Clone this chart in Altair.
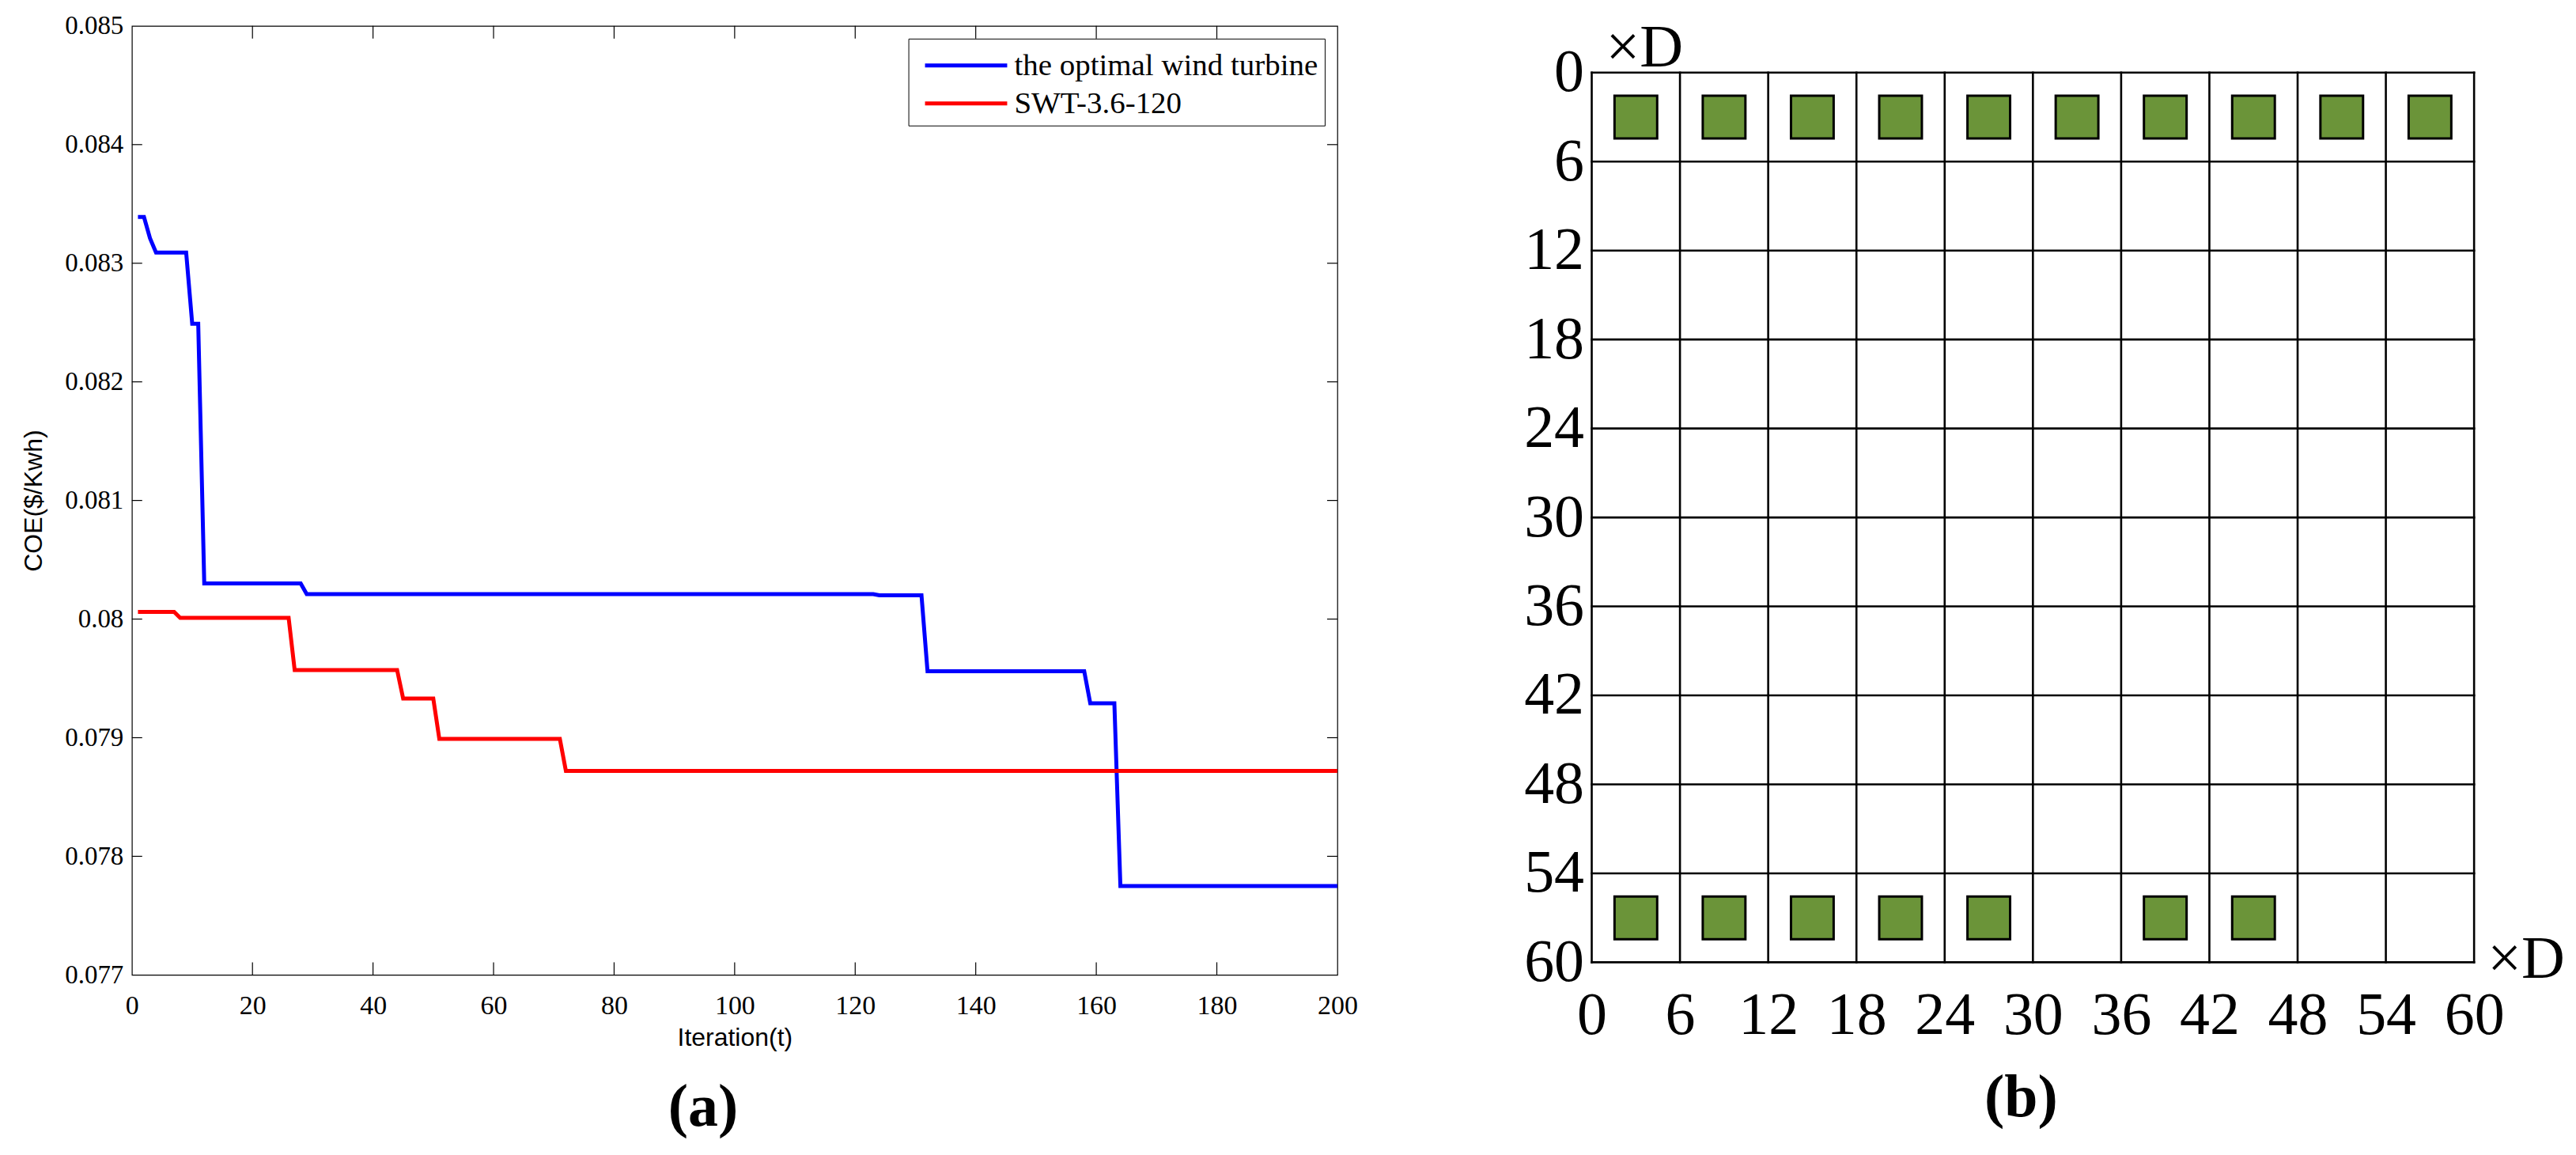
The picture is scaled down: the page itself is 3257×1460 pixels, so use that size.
import altair as alt
import pandas as pd

# ---------------- Panel (a): COE convergence (breakpoints) ----------------
blue_iter = [1, 2, 3, 4, 9, 10, 11, 12, 28, 29, 123, 124, 131, 132, 158, 159, 163, 164, 200]
blue_coe = [0.08339, 0.08339, 0.08321, 0.08309, 0.08309, 0.08249, 0.08249, 0.08030, 0.08030,
            0.08021, 0.08021, 0.08020, 0.08020, 0.07956, 0.07956, 0.07929, 0.07929, 0.07775, 0.07775]
red_iter = [1, 7, 8, 26, 27, 44, 45, 50, 51, 71, 72, 200]
red_coe = [0.08006, 0.08006, 0.08001, 0.08001, 0.07957, 0.07957, 0.07933, 0.07933,
           0.07899, 0.07899, 0.07872, 0.07872]
series_names = ["the optimal wind turbine", "SWT-3.6-120"]
series_colors = ["#0000ff", "#ff0000"]
a_x_ticks = [0, 20, 40, 60, 80, 100, 120, 140, 160, 180, 200]
a_y_ticks = [0.077, 0.078, 0.079, 0.080, 0.081, 0.082, 0.083, 0.084, 0.085]

# ---------------- Panel (b): turbine layout on a 60D x 60D grid ----------------
grid_lines = [0, 6, 12, 18, 24, 30, 36, 42, 48, 54, 60]
top_row_x = [3, 9, 15, 21, 27, 33, 39, 45, 51, 57]
bottom_row_x = [3, 9, 15, 21, 27, 39, 45]
top_row_y = 3
bottom_row_y = 57
turbine_green = "#6b9439"

SERIF = "Liberation Serif"
SANS = "Liberation Sans"

# layout (pixels)
W_A, H_A = 1526, 1201
W_B = 1117
B_RANGE = [59, 1185]

# ---------------- build panel (a) ----------------
lines_df = pd.DataFrame({
    "iteration": blue_iter + red_iter,
    "coe": blue_coe + red_coe,
    "series": [series_names[0]] * len(blue_iter) + [series_names[1]] * len(red_iter),
})

xs_a = alt.Scale(domain=[a_x_ticks[0], a_x_ticks[-1]], nice=False, zero=False)
ys_a = alt.Scale(domain=[a_y_ticks[0], a_y_ticks[-1]], nice=False, zero=False)
ax_a_x = alt.Axis(values=a_x_ticks, title="Iteration(t)", titleFont=SANS, titleFontSize=32,
                  titleFontWeight="normal", titlePadding=8, labelFont=SERIF, labelFontSize=34,
                  labelPadding=22, ticks=False, domain=False, grid=False,
                  labelFlush=False, labelOverlap=False)
ax_a_y = alt.Axis(values=a_y_ticks, format=".3~f", title="COE($/Kwh)", titleFont=SANS,
                  titleFontSize=32, titleFontWeight="normal", titlePadding=22,
                  labelFont=SERIF, labelFontSize=33, labelPadding=11, ticks=False,
                  domain=False, grid=False, labelFlush=False, labelOverlap=False)

legend_len = 104.0
sym_size = 47 * 47
half = (legend_len / 2) / (47 / 2)
sym_path = f"M{-half:.3f},0H{half:.3f}"

X_A = alt.X("iteration:Q", scale=xs_a, axis=ax_a_x)
Y_A = alt.Y("coe:Q", scale=ys_a, axis=ax_a_y)

lines = alt.Chart(lines_df).mark_line(strokeWidth=5).encode(
    x=X_A, y=Y_A,
    color=alt.Color("series:N", scale=alt.Scale(domain=series_names, range=series_colors),
                    legend=alt.Legend(title=None, orient="top-right", offset=16, padding=8,
                                      strokeColor="black", fillColor="white",
                                      labelFont=SERIF, labelFontSize=39, labelColor="black",
                                      labelLimit=1000,
                                      symbolType=sym_path, symbolSize=sym_size,
                                      symbolStrokeWidth=5, symbolOffset=39, labelOffset=35,
                                      rowPadding=2)),
)

tick_x = pd.DataFrame({"iteration": a_x_ticks[1:-1]})
tick_y = pd.DataFrame({"coe": a_y_ticks[1:-1]})
bottom_ticks = alt.Chart(tick_x.assign(coe=a_y_ticks[0])).mark_rule(
    color="black", strokeWidth=1.2, y2Offset=-16).encode(x=X_A, y=Y_A, y2="coe:Q")
top_ticks = alt.Chart(tick_x.assign(coe=a_y_ticks[-1])).mark_rule(
    color="black", strokeWidth=1.2, y2Offset=16).encode(x=X_A, y=Y_A, y2="coe:Q")
left_ticks = alt.Chart(tick_y.assign(iteration=a_x_ticks[0])).mark_rule(
    color="black", strokeWidth=1.2, x2Offset=13).encode(x=X_A, y=Y_A, x2="iteration:Q")
right_ticks = alt.Chart(tick_y.assign(iteration=a_x_ticks[-1])).mark_rule(
    color="black", strokeWidth=1.2, x2Offset=-13).encode(x=X_A, y=Y_A, x2="iteration:Q")

panel_a = alt.layer(lines, bottom_ticks, top_ticks, left_ticks, right_ticks).properties(
    width=W_A, height=H_A,
    title=alt.TitleParams("(a)", orient="bottom", font=SERIF, fontSize=76, fontWeight="bold",
                          color="black", offset=36, dx=-40, anchor="middle"),
)

# ---------------- build panel (b) ----------------
xs_b = alt.Scale(domain=[grid_lines[0], grid_lines[-1]], nice=False, zero=False)
ys_b = alt.Scale(domain=[grid_lines[0], grid_lines[-1]], range=B_RANGE, nice=False, zero=False)
ax_b_x = alt.Axis(values=grid_lines, title=None, labelFont=SERIF, labelFontSize=76,
                  labelPadding=14, ticks=False, domain=False, grid=False,
                  labelFlush=False, labelOverlap=False)
ax_b_y = alt.Axis(values=grid_lines, title=None, labelFont=SERIF, labelFontSize=76,
                  labelPadding=10, ticks=False, domain=False, grid=False,
                  labelFlush=False, labelOverlap=False)
X_B = alt.X("gx:Q", scale=xs_b, axis=ax_b_x)
Y_B = alt.Y("gy:Q", scale=ys_b, axis=ax_b_y)

hlines = pd.DataFrame({"gy": grid_lines, "gx": grid_lines[0], "gx2": grid_lines[-1]})
vlines = pd.DataFrame({"gx": grid_lines, "gy": grid_lines[0], "gy2": grid_lines[-1]})

h_rules = alt.Chart(hlines).mark_rule(color="black", strokeWidth=2.6, strokeCap="square").encode(
    x=X_B, y=Y_B, x2="gx2:Q")
v_rules = alt.Chart(vlines).mark_rule(color="black", strokeWidth=2.6, strokeCap="square").encode(
    x=X_B, y=Y_B, y2="gy2:Q")

turbines = pd.DataFrame({
    "gx": top_row_x + bottom_row_x,
    "gy": [top_row_y] * len(top_row_x) + [bottom_row_y] * len(bottom_row_x),
})
squares = alt.Chart(turbines).mark_square(size=2916, fill=turbine_green, stroke="black",
                                          strokeWidth=3, opacity=1).encode(x=X_B, y=Y_B)

unit_top = pd.DataFrame({"gx": [grid_lines[0]], "gy": [grid_lines[0]], "t": ["×D"]})
unit_right = pd.DataFrame({"gx": [grid_lines[-1]], "gy": [grid_lines[-1]], "t": ["×D"]})
unit_top_txt = alt.Chart(unit_top).mark_text(font=SERIF, fontSize=76, align="left",
                                             baseline="alphabetic", dx=18, dy=-8,
                                             color="black").encode(x=X_B, y=Y_B, text="t:N")
unit_right_txt = alt.Chart(unit_right).mark_text(font=SERIF, fontSize=76, align="left",
                                                 baseline="alphabetic", dx=17, dy=20,
                                                 color="black").encode(x=X_B, y=Y_B, text="t:N")

panel_b = alt.layer(h_rules, v_rules, squares, unit_top_txt, unit_right_txt).properties(
    width=W_B, height=H_A,
    view=alt.ViewBackground(stroke="transparent"),
    title=alt.TitleParams("(b)", orient="bottom", font=SERIF, fontSize=76, fontWeight="bold",
                          color="black", offset=30, dx=-15, anchor="middle"),
)

chart = alt.hconcat(panel_a, panel_b, spacing=322, bounds="flush").resolve_scale(
    color="independent", x="independent", y="independent"
).resolve_legend(color="independent").properties(
    padding={"left": 18, "top": 7, "right": 5, "bottom": 5},
    background="white",
).configure_view(stroke="black", strokeWidth=1.2).configure_axis(
    labelColor="black", titleColor="black"
)

chart.save("out.html", embed_options={"renderer": "svg", "actions": False})
